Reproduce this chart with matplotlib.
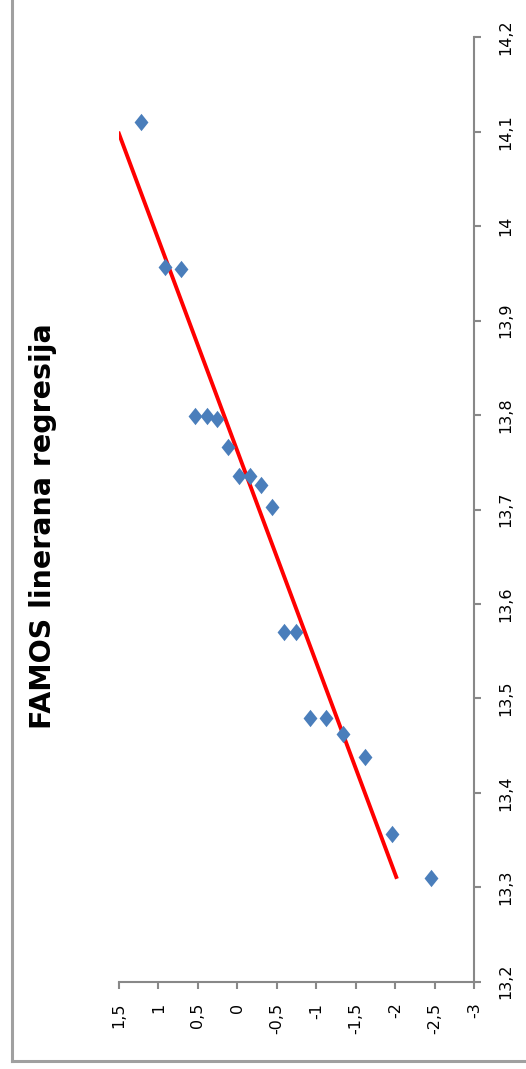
import matplotlib
matplotlib.use('Agg')
import matplotlib.pyplot as plt
from matplotlib.lines import Line2D
from matplotlib.path import Path

# sample values (vertical axis in the picture) and normal scores (horizontal)
sample = [14.110, 13.957, 13.955, 13.799, 13.799, 13.796, 13.766, 13.735, 13.735, 13.726,
          13.703, 13.570, 13.570, 13.479, 13.479, 13.462, 13.438, 13.356, 13.310]
score = [1.221, 0.917, 0.715, 0.537, 0.389, 0.255, 0.116, -0.024, -0.159, -0.298,
         -0.438, -0.586, -0.742, -0.919, -1.122, -1.341, -1.616, -1.954, -2.448]

# regression line end points
line_sample = [13.309, 14.100]
line_score = [-2.02, 1.51]

score_ticks = [1.5, 1, 0.5, 0, -0.5, -1, -1.5, -2, -2.5, -3]
score_labels = ['1,5', '1', '0,5', '0', '-0,5', '-1', '-1,5', '-2', '-2,5', '-3']
sample_ticks = [13.2, 13.3, 13.4, 13.5, 13.6, 13.7, 13.8, 13.9, 14.0, 14.1, 14.2]
sample_labels = ['13,2', '13,3', '13,4', '13,5', '13,6', '13,7', '13,8', '13,9', '14', '14,1', '14,2']

W, H = 526, 1069
fig = plt.figure(figsize=(W / 100, H / 100), dpi=100)

# frame of the chart area (left and bottom edges only are visible)
fig.add_artist(Line2D([12 / W, 12 / W], [1, 1 - 1061 / H], color='#a0a0a0', lw=2.2,
                      transform=fig.transFigure))
fig.add_artist(Line2D([12 / W, 1], [1 - 1061 / H, 1 - 1061 / H], color='#a0a0a0', lw=2.2,
                      transform=fig.transFigure))

ax = fig.add_axes([119 / W, 1 - 981.7 / H, 355.3 / W, 944.4 / H])

diamond = Path([(0, 1), (0.8, 0), (0, -1), (-0.8, 0), (0, 1)],
               [Path.MOVETO, Path.LINETO, Path.LINETO, Path.LINETO, Path.CLOSEPOLY])

ax.plot(line_score, line_sample, color='#ff0000', lw=2.8, zorder=2, solid_capstyle='butt')
ax.plot(score, sample, linestyle='none', marker=diamond, markersize=12.5,
        color='#4a7ebb', markeredgewidth=0, zorder=3, clip_on=False)

ax.set_xlim(1.5, -3)
ax.set_ylim(13.2, 14.2)

for s in ['left', 'top']:
    ax.spines[s].set_visible(False)
for s in ['bottom', 'right']:
    ax.spines[s].set_color('#888888')
    ax.spines[s].set_linewidth(1.5)

ax.yaxis.tick_right()
ax.set_xticks(score_ticks)
ax.set_xticklabels(score_labels, rotation=90, fontsize=11.5)
ax.set_yticks(sample_ticks)
ax.set_yticklabels(sample_labels, rotation=90, fontsize=11.5, va='center')
ax.tick_params(axis='x', direction='out', length=5, width=1.5, color='#888888', pad=10)
ax.tick_params(axis='y', direction='out', length=5, width=1.5, color='#888888', pad=12)

fig.text(43 / W, 1 - 526.5 / H, 'FAMOS linerana regresija', rotation=90,
         ha='center', va='center', fontsize=20.5, fontweight='bold')

plt.savefig('out.png', dpi=100)
